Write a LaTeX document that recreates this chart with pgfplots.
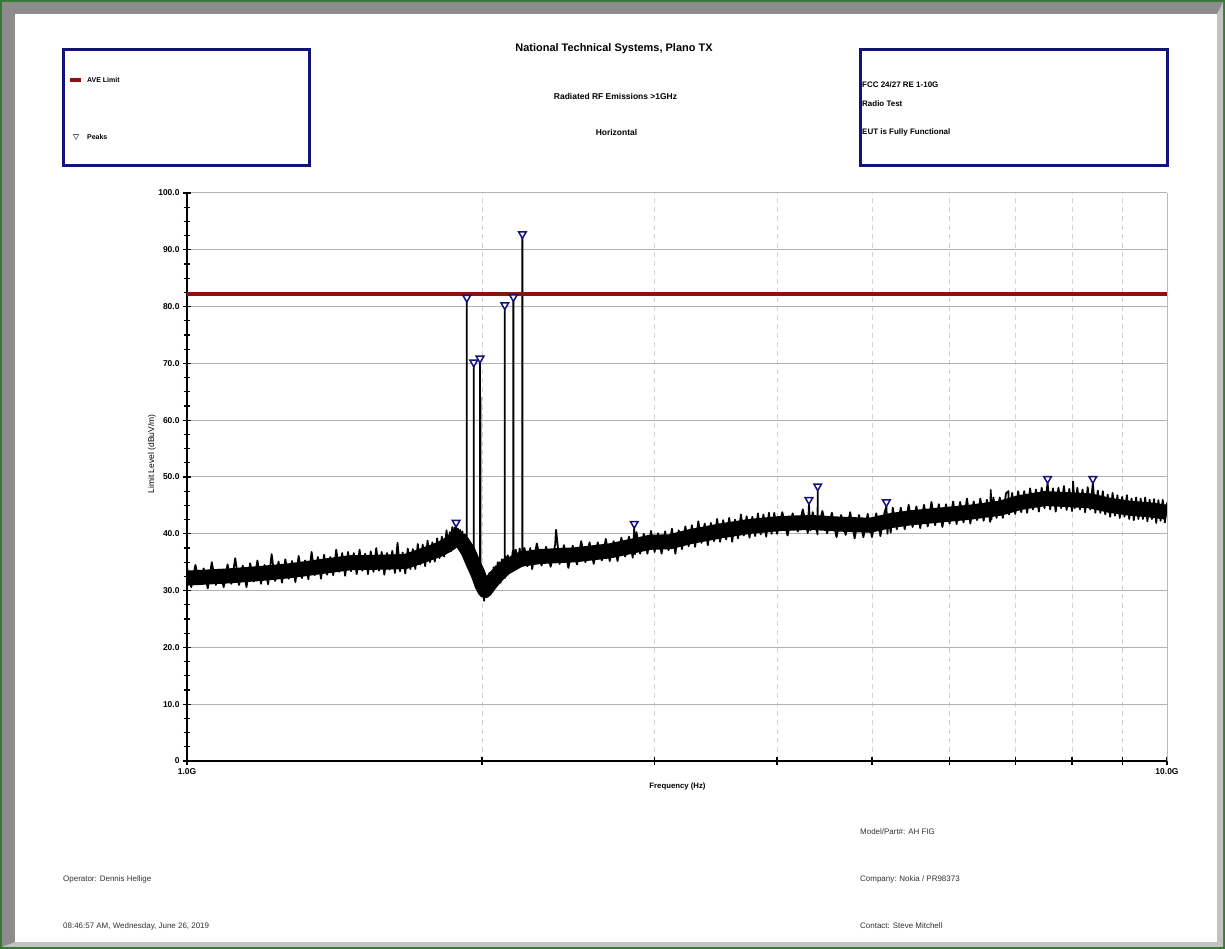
\documentclass[border=0pt]{standalone}
\usepackage{fontspec}
\setmainfont{Liberation Sans}
\usepackage{pgfplots}
\pgfplotsset{compat=1.18}

\definecolor{avered}{RGB}{140,18,18}
\definecolor{boxnavy}{RGB}{18,18,120}
\definecolor{framegreen}{RGB}{52,122,52}
\definecolor{bevdark}{RGB}{140,140,140}
\definecolor{bevlight}{RGB}{194,194,194}

\begin{document}
\begin{tikzpicture}
\begin{scope}[x=1bp,y=1bp]
\useasboundingbox (0,0) rectangle (1225,949);
% page frame
\fill[framegreen] (0,0) rectangle (1225,949);
\fill[bevdark] (2,947) -- (1223,947) -- (1217,935) -- (15,935) -- (15,7) -- (2,2) -- cycle;
\fill[bevlight] (1223,947) -- (1223,2) -- (2,2) -- (15,7) -- (1217,7) -- (1217,935) -- cycle;
\fill[white] (15,7) rectangle (1217,935);

% header boxes
\draw[boxnavy, line width=3bp] (63,899) rectangle (309,783);
\draw[boxnavy, line width=3bp] (860,899) rectangle (1167,783);
\draw[avered, line width=4bp] (70,869) -- (81,869);
\node[anchor=west, inner sep=0, font=\bfseries\fontsize{7}{8}\selectfont] at (87,869) {AVE Limit};
\draw[black!60, line width=0.6bp] (73.3,814.5) -- (78.7,814.5) -- (76,809.5) -- cycle;
\node[anchor=west, inner sep=0, font=\bfseries\fontsize{7}{8}\selectfont] at (87,812) {Peaks};
\begin{scope}[every node/.style={anchor=west, inner sep=0, font=\bfseries\fontsize{8}{9}\selectfont}]
\node at (862,864) {FCC 24/27 RE 1-10G};
\node at (862,845) {Radio Test};
\node at (862,817) {EUT is Fully Functional};
\end{scope}
\node[font=\bfseries\fontsize{11}{13}\selectfont] at (614,900) {National Technical Systems, Plano TX};
\node[font=\bfseries\fontsize{8.5}{10}\selectfont] at (615.5,853) {Radiated RF Emissions >1GHz};
\node[font=\bfseries\fontsize{8.5}{10}\selectfont] at (616.5,817) {Horizontal};

% footer
\begin{scope}[every node/.style={anchor=west, inner sep=0, text=black!80, font=\fontsize{8}{9}\selectfont}]
\node at (860,117) {Model/Part\#: AH FIG};
\node at (63,70) {Operator: Dennis Hellige};
\node at (860,70) {Company: Nokia / PR98373};
\node at (63,23) {08:46:57 AM, Wednesday, June 26, 2019};
\node at (860,23) {Contact: Steve Mitchell};
\end{scope}

% axis titles
\node[rotate=90, font=\fontsize{8.5}{10}\selectfont] at (152,495) {Limit Level (dBuV/m)};
\node[font=\bfseries\fontsize{7.8}{9}\selectfont] at (677.5,163) {Frequency (Hz)};
\end{scope}

\begin{axis}[
  at={(187bp,188bp)}, anchor=south west,
  scale only axis, width=980bp, height=568bp,
  xmode=log, xmin=1, xmax=10, ymin=0, ymax=100,
  axis x line*=bottom, axis y line*=left,
  axis line style={black, line width=2bp},
  xtick={1,2,3,4,5,6,7,8,9,10},
  xticklabels={1.0G,,,,,,,,,10.0G},
  ytick={0,10,...,100},
  yticklabels={0,10.0,20.0,30.0,40.0,50.0,60.0,70.0,80.0,90.0,100.0},
  minor y tick num=3,
  tick align=center,
  major tick length=8bp, minor tick length=7bp,
  tick style={black, line width=1.3bp},
  xmajorgrids, ymajorgrids,
  x grid style={gray!35, dash pattern=on 5bp off 4bp, line width=0.8bp},
  y grid style={gray!60, line width=1bp},
  ticklabel style={font=\bfseries\fontsize{8.5}{10}\selectfont},
]

% trace: centre of the noise band
\addplot[black, line width=15bp, line join=round] coordinates {
(1.000,32.2)(1.106,32.6)(1.187,33.0)(1.274,33.5)(1.367,34.2)(1.467,34.9)(1.574,35.0)
(1.669,35.1)(1.729,36.0)(1.813,37.3)(1.855,38.3)(1.882,39.3)(1.908,38.6)(1.935,37.0)
(1.963,34.5)(1.981,33.0)(2.000,31.0)(2.014,30.0)(2.038,31.2)(2.067,32.5)(2.111,34.0)
(2.187,35.5)(2.292,36.0)(2.489,36.3)(2.702,37.0)(2.968,38.5)(3.111,38.6)(3.262,39.5)
(3.499,40.5)(3.754,41.3)(4.028,41.8)(4.322,42.0)(4.638,41.7)(4.977,41.5)(5.217,42.3)
(5.467,42.8)(5.867,43.3)(6.295,43.8)(6.754,44.5)(7.079,45.5)(7.507,46.2)(7.962,46.0)
(8.345,45.8)(8.747,45.0)(9.168,44.5)(9.610,44.2)(10.0,43.8)
};

% trace: measured sweep with spikes
\addplot[black, line width=1.8bp, line join=round] coordinates {
(1.00,34.0)(1.01,30.6)(1.02,34.5)(1.03,31.1)(1.04,33.9)(1.05,30.4)(1.06,35.0)(1.07,31.0)(1.08,33.7)(1.09,30.6)
(1.10,34.6)(1.11,31.2)(1.12,35.7)(1.13,31.0)(1.14,34.4)(1.15,30.6)(1.16,34.8)(1.17,31.6)(1.18,35.3)(1.19,31.2)
(1.20,34.5)(1.21,31.1)(1.22,36.4)(1.23,31.7)(1.24,35.1)(1.25,31.4)(1.26,35.5)(1.27,32.1)(1.28,35.2)(1.29,31.5)
(1.30,36.1)(1.31,32.2)(1.32,35.3)(1.33,32.0)(1.34,36.8)(1.35,32.7)(1.36,35.9)(1.37,32.1)(1.38,36.3)(1.39,32.8)
(1.40,35.9)(1.41,32.7)(1.42,37.2)(1.43,33.3)(1.44,36.6)(1.45,32.6)(1.46,36.8)(1.47,33.4)(1.48,36.6)(1.49,32.9)
(1.50,37.2)(1.51,33.5)(1.52,36.5)(1.53,32.9)(1.54,36.9)(1.55,33.3)(1.56,37.5)(1.57,33.5)(1.58,36.8)(1.59,32.8)
(1.60,36.6)(1.61,33.7)(1.62,37.0)(1.63,33.1)(1.64,38.4)(1.65,33.4)(1.66,36.7)(1.67,33.0)(1.68,37.4)(1.69,33.8)
(1.70,37.3)(1.71,33.8)(1.72,38.2)(1.73,34.6)(1.74,38.1)(1.75,34.3)(1.76,38.8)(1.77,35.0)(1.78,38.5)(1.79,35.1)
(1.80,39.2)(1.81,35.7)(1.82,39.5)(1.83,36.0)(1.84,40.6)(1.85,36.8)
(1.855,40.3)(1.860,36.9)(1.865,41.2)(1.870,37.5)(1.875,41.1)(1.880,37.8)(1.882,41.2)(1.886,37.9)
(1.890,40.9)(1.895,37.6)(1.900,40.7)(1.905,37.1)(1.910,40.4)(1.915,36.8)(1.920,39.9)(1.925,36.2)
(1.930,38.8)(1.930,80.8)(1.930,35.5)(1.935,38.4)(1.940,34.7)(1.945,37.7)(1.950,33.7)(1.955,36.7)
(1.960,32.8)(1.962,35.8)(1.962,69.4)(1.962,33.5)(1.965,36.1)(1.970,31.9)(1.975,35.2)(1.980,31.3)
(1.985,34.4)(1.990,30.4)(1.991,33.0)(1.991,70.1)(1.991,31.0)(1.993,33.2)(1.993,64.0)(1.993,30.8)
(1.995,33.4)(2.000,29.1)(2.005,32.3)(2.010,28.2)(2.015,31.9)(2.020,28.8)(2.025,32.5)(2.030,29.4)
(2.035,33.1)(2.040,29.7)(2.045,33.3)(2.050,30.0)(2.055,34.1)(2.060,30.7)(2.065,34.3)(2.070,31.0)
(2.075,35.0)(2.080,31.3)(2.085,35.0)(2.090,31.4)(2.095,35.5)(2.100,32.1)(2.105,35.5)(2.110,32.2)
(2.110,79.5)(2.110,34.0)(2.115,36.0)(2.120,33.0)
(2.125,36.2)(2.140,33.4)(2.150,37.0)(2.153,34.5)(2.153,80.9)(2.153,34.0)(2.165,37.2)(2.175,34.3)
(2.185,37.4)(2.199,34.4)(2.199,92.0)(2.199,35.0)(2.210,37.5)(2.225,34.3)
(2.240,37.5)(2.250,33.8)(2.275,38.3)(2.300,34.4)(2.325,37.7)(2.350,34.2)(2.375,38.1)(2.380,40.7)
(2.400,34.7)(2.425,38.0)(2.450,34.0)(2.475,37.9)(2.500,34.6)(2.525,38.7)(2.550,35.0)(2.575,38.5)
(2.600,34.7)(2.625,38.5)(2.650,35.3)(2.675,39.1)(2.700,35.2)(2.725,38.7)(2.750,35.2)(2.775,39.3)
(2.800,36.0)(2.825,39.5)(2.850,35.8)(2.860,41.0)(2.865,36.4)(2.875,40.3)(2.900,36.5)(2.925,40.0)
(2.950,36.5)(2.975,40.5)(3.000,36.8)(3.025,40.1)(3.050,36.5)(3.075,40.4)(3.100,37.1)(3.125,40.9)
(3.150,36.5)(3.175,40.6)(3.200,37.3)(3.225,41.3)(3.250,37.8)(3.275,41.5)(3.300,37.7)(3.325,42.2)
(3.350,38.4)(3.375,41.8)(3.400,38.0)(3.425,41.9)(3.450,38.7)(3.475,42.6)(3.500,38.6)(3.525,42.4)
(3.550,39.0)(3.575,42.8)(3.600,38.6)(3.625,42.5)(3.650,39.2)(3.675,43.4)(3.700,39.7)(3.725,43.1)
(3.750,39.3)(3.775,43.0)(3.800,39.6)(3.825,43.6)(3.850,39.9)(3.875,43.4)(3.900,39.5)(3.925,43.7)
(3.950,40.0)(3.975,43.7)
(4.00,40.0)(4.05,43.8)(4.10,39.7)(4.15,43.6)(4.20,40.4)(4.25,44.3)(4.30,40.1)(4.312,45.2)
(4.325,40.6)(4.35,43.8)(4.40,39.9)(4.401,47.6)(4.402,40.8)(4.45,44.0)(4.50,40.1)(4.55,43.7)
(4.60,39.4)(4.65,43.3)(4.70,39.8)(4.75,43.8)(4.80,39.2)(4.85,43.3)(4.90,39.4)(4.95,43.5)
(5.00,39.4)(5.05,43.6)(5.10,39.6)(5.15,43.8)(5.172,44.8)(5.185,40.0)(5.20,42.8)(5.225,40.2)
(5.25,44.6)(5.30,40.8)(5.35,44.6)(5.40,40.8)(5.45,45.1)(5.50,41.2)(5.55,44.8)(5.60,41.0)
(5.65,45.1)(5.70,41.3)(5.75,45.6)(5.80,41.5)(5.85,45.2)(5.90,41.2)(5.95,45.2)(6.00,41.8)
(6.05,45.7)(6.10,41.7)(6.15,45.6)(6.20,42.0)(6.25,46.2)(6.30,41.8)(6.35,45.7)(6.40,42.4)
(6.45,46.2)(6.50,42.3)(6.55,46.0)(6.60,42.1)(6.61,47.7)(6.62,42.5)(6.65,46.4)(6.70,42.8)
(6.75,46.4)(6.80,42.8)(6.85,47.1)(6.89,47.5)(6.90,43.4)(6.95,47.2)
(7.00,43.5)(7.05,47.5)(7.10,43.8)(7.15,47.5)(7.20,43.7)(7.25,48.0)(7.30,44.3)(7.35,47.8)
(7.40,43.9)(7.45,48.1)(7.50,44.5)(7.554,48.9)(7.60,44.3)(7.65,48.0)(7.70,43.9)(7.75,48.1)
(7.80,44.5)(7.85,48.4)(7.90,44.2)(7.95,47.9)(8.00,44.0)(8.02,49.2)(8.05,44.5)(8.10,48.1)
(8.15,44.3)(8.20,47.8)(8.25,43.8)(8.30,48.2)(8.35,44.3)(8.401,48.9)(8.45,43.7)(8.50,47.6)
(8.55,43.7)(8.60,47.5)(8.65,43.4)(8.70,46.9)(8.75,43.0)(8.80,47.2)(8.85,43.2)(8.90,46.8)
(8.95,42.8)(9.00,46.5)(9.05,43.0)(9.10,46.8)(9.15,42.6)(9.20,46.2)(9.25,42.4)(9.30,46.4)
(9.35,42.6)(9.40,46.2)(9.45,42.6)(9.50,46.4)(9.55,42.2)(9.60,46.0)(9.65,42.6)(9.70,46.1)
(9.75,41.9)(9.80,45.9)(9.85,42.3)(9.90,46.0)(9.95,42.0)(10.00,45.5)
};

% AVE limit
\addplot[avered, line width=4.5bp] coordinates {(1,82.2) (10,82.2)};

% peaks
\addplot[only marks, mark=triangle*, mark size=4.4bp,
  mark options={draw=boxnavy, fill=white, line width=1.5bp, yshift=4.4bp, rotate=180}]
coordinates {
(1.882,41.2)(1.930,80.8)(1.962,69.4)(1.991,70.1)(2.110,79.5)(2.153,80.9)(2.199,92.0)
(2.860,41.0)(4.312,45.2)(4.401,47.6)(5.172,44.8)(7.554,48.9)(8.401,48.9)
};
\end{axis}
\begin{scope}[x=1bp,y=1bp]
\draw[gray!55, line width=1bp] (1167,188) -- (1167,756);
\end{scope}
\end{tikzpicture}
\end{document}
